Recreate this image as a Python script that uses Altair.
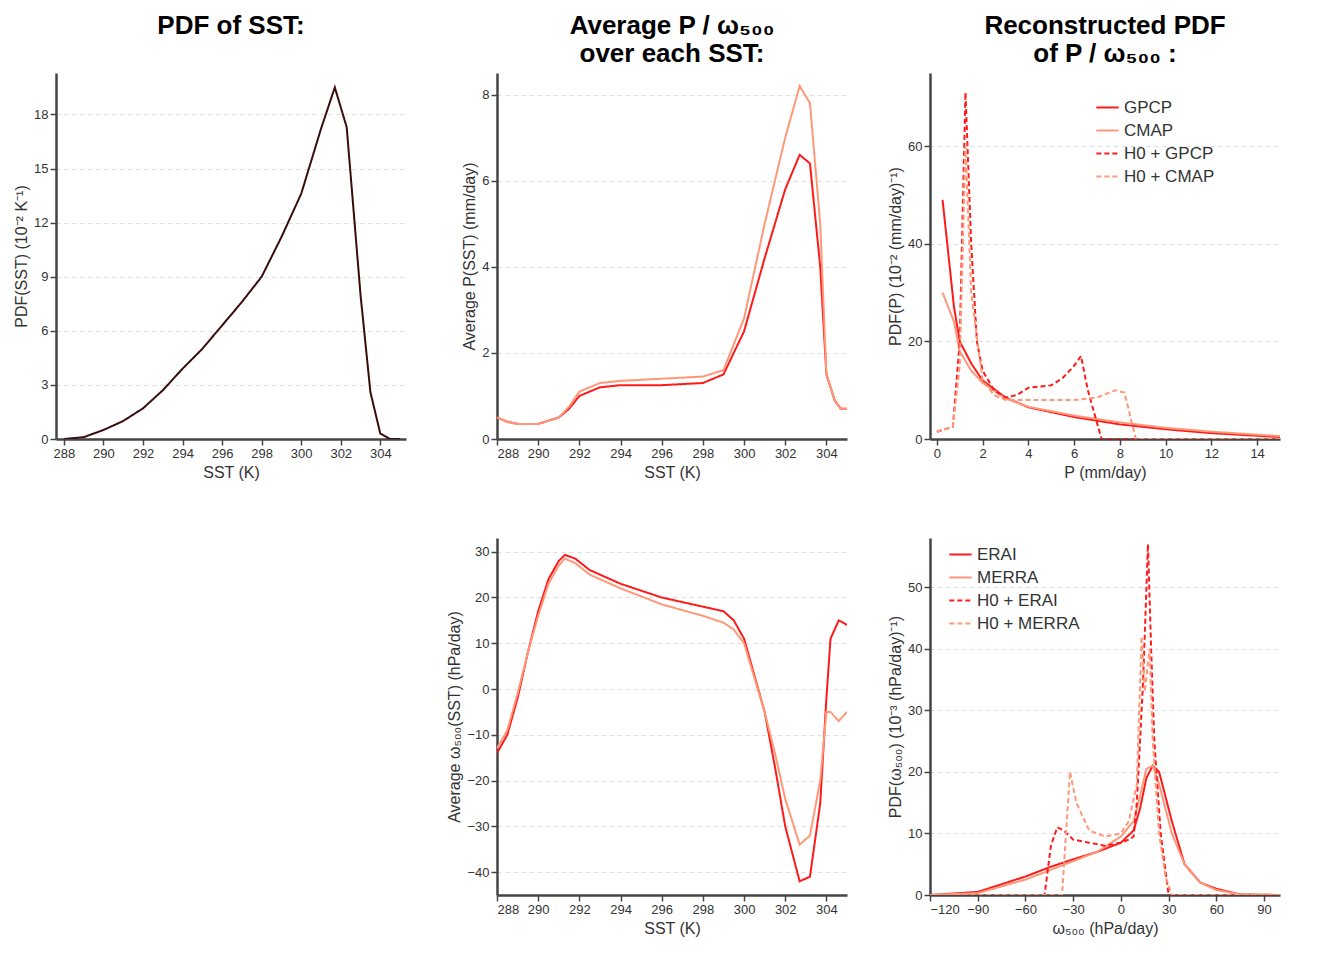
import pandas as pd
import altair as alt

FONT = "Liberation Sans"
RED = "#ff1a1a"
ORANGE = "#ff9878"

# Panel 1: PDF of SST
sst1 = [288, 289, 290, 291, 292, 293, 294, 295, 296, 297, 298, 299, 300, 301, 301.7, 302.3, 302.7, 303, 303.5, 304, 304.5, 305]
pdf_sst = [0, 0.1, 0.5, 1.0, 1.7, 2.7, 3.9, 5.0, 6.3, 7.6, 9.0, 11.2, 13.6, 17.2, 19.5, 17.3, 12.0, 8.0, 2.6, 0.3, 0, 0]

# Panel 2: average P over SST
sst2 = [288, 288.5, 289, 290, 291, 291.5, 292, 293, 294, 296, 298, 299, 300, 301, 302, 302.7, 303.2, 303.7, 304, 304.4, 304.7, 305]
p_gpcp = [0.5, 0.4, 0.35, 0.35, 0.5, 0.7, 1.0, 1.2, 1.25, 1.25, 1.3, 1.5, 2.5, 4.2, 5.8, 6.6, 6.4, 4.0, 1.5, 0.9, 0.7, 0.7]
p_cmap = [0.5, 0.4, 0.35, 0.35, 0.5, 0.75, 1.1, 1.3, 1.35, 1.4, 1.45, 1.6, 2.8, 5.0, 7.0, 8.2, 7.8, 5.0, 1.5, 0.9, 0.7, 0.7]

# Panel 3: reconstructed PDF of P
p_x = [0.25, 0.5, 0.75, 1, 1.5, 2, 3, 4, 6, 8, 10, 12, 15]
pdf_gpcp = [49, 38, 27, 20, 15.5, 12, 8.5, 6.5, 4.5, 3.0, 2.0, 1.2, 0.4]
pdf_cmap = [30, 27, 24, 18, 14, 11.5, 8.3, 6.6, 4.8, 3.4, 2.3, 1.5, 0.6]
h0_gpcp_x = [0, 0.7, 1, 1.25, 1.5, 1.75, 2, 2.5, 3, 3.5, 4, 5, 5.5, 6, 6.3, 6.6, 7.2, 15]
h0_gpcp = [1.5, 2.5, 20, 71, 40, 20, 14, 10, 8.5, 9, 10.5, 11, 12.5, 15, 17, 10, 0, 0]
h0_cmap_x = [0, 0.7, 1, 1.25, 1.5, 2, 2.5, 3, 4, 6, 7, 7.8, 8.2, 8.7, 15]
h0_cmap = [1.5, 2.5, 15, 60, 30, 12, 9, 8, 8, 8, 8.5, 10, 9.5, 0, 0]

# Panel 4: average omega500 over SST
sst4 = [288, 288.5, 289, 289.5, 290, 290.5, 291, 291.3, 291.8, 292.5, 294, 296, 298, 299, 299.5, 300, 301, 301.5, 302, 302.7, 303.2, 303.7, 304, 304.2, 304.6, 305]
w_erai = [-14, -10, -2, 8, 17, 24, 28, 29.3, 28.5, 26, 23, 20, 18, 17, 15, 11, -5, -17, -30, -42, -41, -25, -2, 11, 15, 14]
w_merra = [-13, -9, -1, 8, 16, 23, 27, 28.5, 27.5, 25, 22, 18.5, 16, 14.5, 13, 10, -5, -14, -24, -34, -32, -20, -5, -5, -7, -5]

# Panel 5: reconstructed PDF of omega500
w_x = [-120, -90, -60, -45, -30, -15, 0, 8, 12, 16, 20, 24, 28, 32, 40, 50, 60, 75, 100]
pdf_erai = [0, 0.5, 3, 4.5, 5.8, 7, 8.5, 10.5, 14, 19, 21, 20, 16, 12, 5, 2, 1, 0.1, 0]
pdf_merra = [0, 0.3, 2.5, 4, 5.5, 7, 9.5, 12, 16, 20.5, 21, 18, 14, 10, 5, 2, 0.8, 0.1, 0]
h0_erai_x = [-120, -48, -44, -40, -36, -30, -20, -10, 0, 5, 8, 10, 14, 17, 19, 21, 25, 30, 100]
h0_erai = [0, 0, 8, 11, 10.5, 9, 8.5, 8, 8.5, 9, 9.5, 15, 35, 57, 40, 25, 10, 0, 0]
h0_merra_x = [-120, -37, -34, -32, -28, -20, -10, 0, 5, 10, 13, 15, 18, 20, 24, 28, 32, 100]
h0_merra = [0, 0, 12, 20, 15, 10.5, 9.5, 10, 12, 18, 42, 33, 40, 25, 10, 3, 0, 0]

W, H_TOP, H_BOT = 350, 366, 357


def frame(xs_list, ys_list, names):
    rows = []
    for xs, ys, n in zip(xs_list, ys_list, names):
        for i, (x, y) in enumerate(zip(xs, ys)):
            rows.append({"x": x, "y": y, "series": n, "order": i})
    return pd.DataFrame(rows)


def panel(df, xdom, xvals, ydom, yvals, xtitle, ytitle, names, colors, dashes, height, title=None, legend=None):
    if legend:
        legend_obj = alt.Legend(title=None, orient="none", legendX=legend[0], legendY=legend[1],
                                symbolType="stroke", symbolStrokeWidth=2, symbolSize=500,
                                labelFont=FONT, labelFontSize=17, labelColor="#333", rowPadding=2)
    else:
        legend_obj = None
    ch = alt.Chart(df).mark_line(strokeWidth=2, clip=True).encode(
        x=alt.X("x:Q", scale=alt.Scale(domain=xdom, nice=False, zero=False),
                axis=alt.Axis(values=xvals, title=xtitle, grid=False)),
        y=alt.Y("y:Q", scale=alt.Scale(domain=ydom, nice=False, zero=False),
                axis=alt.Axis(values=yvals, title=ytitle, grid=True)),
        color=alt.Color("series:N", scale=alt.Scale(domain=names, range=colors), legend=legend_obj),
        strokeDash=alt.StrokeDash("series:N", scale=alt.Scale(domain=names, range=dashes), legend=legend_obj),
        order="order:Q",
    ).properties(width=W, height=height)
    if title:
        ch = ch.properties(title=alt.TitleParams(title, font=FONT, fontSize=26, fontWeight="bold",
                                                 color="black", anchor="middle", offset=6))
    return ch


solid, dash = [1, 0], [5, 3]

p1 = panel(frame([sst1], [pdf_sst], ["SST"]), [287.6, 305.3], list(range(288, 305, 2)),
           [0, 20.3], [0, 3, 6, 9, 12, 15, 18], "SST (K)", "PDF(SST) (10⁻² K⁻¹)",
           ["SST"], ["#3a0d0d"], [solid], H_TOP, title=["PDF of SST:", ""])

p2 = panel(frame([sst2, sst2], [p_gpcp, p_cmap], ["GPCP", "CMAP"]), [288, 305], list(range(288, 305, 2)),
           [0, 8.5], [0, 2, 4, 6, 8], "SST (K)", "Average P(SST) (mm/day)",
           ["GPCP", "CMAP"], [RED, ORANGE], [solid, solid], H_TOP,
           title=["Average P / ω₅₀₀", "over each SST:"])

names3 = ["GPCP", "CMAP", "H0 + GPCP", "H0 + CMAP"]
p3 = panel(frame([p_x, p_x, h0_gpcp_x, h0_cmap_x], [pdf_gpcp, pdf_cmap, h0_gpcp, h0_cmap], names3),
           [-0.3, 15], list(range(0, 15, 2)), [0, 75], [0, 20, 40, 60],
           "P (mm/day)", "PDF(P) (10⁻² (mm/day)⁻¹)", names3, [RED, ORANGE, RED, ORANGE],
           [solid, solid, dash, dash], H_TOP, title=["Reconstructed PDF", "of P / ω₅₀₀ :"],
           legend=(165, 22))

blank = alt.Chart(pd.DataFrame({"x": [0]})).mark_point(opacity=0).encode(
    x=alt.X("x:Q", axis=None), y=alt.Y("x:Q", axis=None)).properties(width=W, height=H_BOT)

p4 = panel(frame([sst4, sst4], [w_erai, w_merra], ["ERAI", "MERRA"]), [288, 305], list(range(288, 305, 2)),
           [-45, 33], [-40, -30, -20, -10, 0, 10, 20, 30], "SST (K)", "Average ω₅₀₀(SST) (hPa/day)",
           ["ERAI", "MERRA"], [RED, ORANGE], [solid, solid], H_BOT)

names5 = ["ERAI", "MERRA", "H0 + ERAI", "H0 + MERRA"]
p5 = panel(frame([w_x, w_x, h0_erai_x, h0_merra_x], [pdf_erai, pdf_merra, h0_erai, h0_merra], names5),
           [-120, 100], list(range(-120, 100, 30)), [0, 58], [0, 10, 20, 30, 40, 50],
           "ω₅₀₀ (hPa/day)", "PDF(ω₅₀₀) (10⁻³ (hPa/day)⁻¹)", names5, [RED, ORANGE, RED, ORANGE],
           [solid, solid, dash, dash], H_BOT, legend=(18, 4))

chart = alt.concat(p1, p2, p3, blank, p4, p5, columns=3, spacing={"row": 58, "column": 40}).resolve_scale(
    color="independent", strokeDash="independent", x="independent", y="independent"
).properties(background="white").configure_view(stroke=None).configure_axis(
    labelFont=FONT, labelFontSize=13, labelColor="#333", titleFont=FONT, titleFontSize=16,
    titleFontWeight="normal", titleColor="#333", domainColor="#444", domainWidth=2.5,
    tickColor="#444", tickWidth=1.5, tickSize=6, gridDash=[4, 4], gridColor="#ddd"
)

chart.save("out.html", embed_options={"renderer": "svg", "actions": False})
